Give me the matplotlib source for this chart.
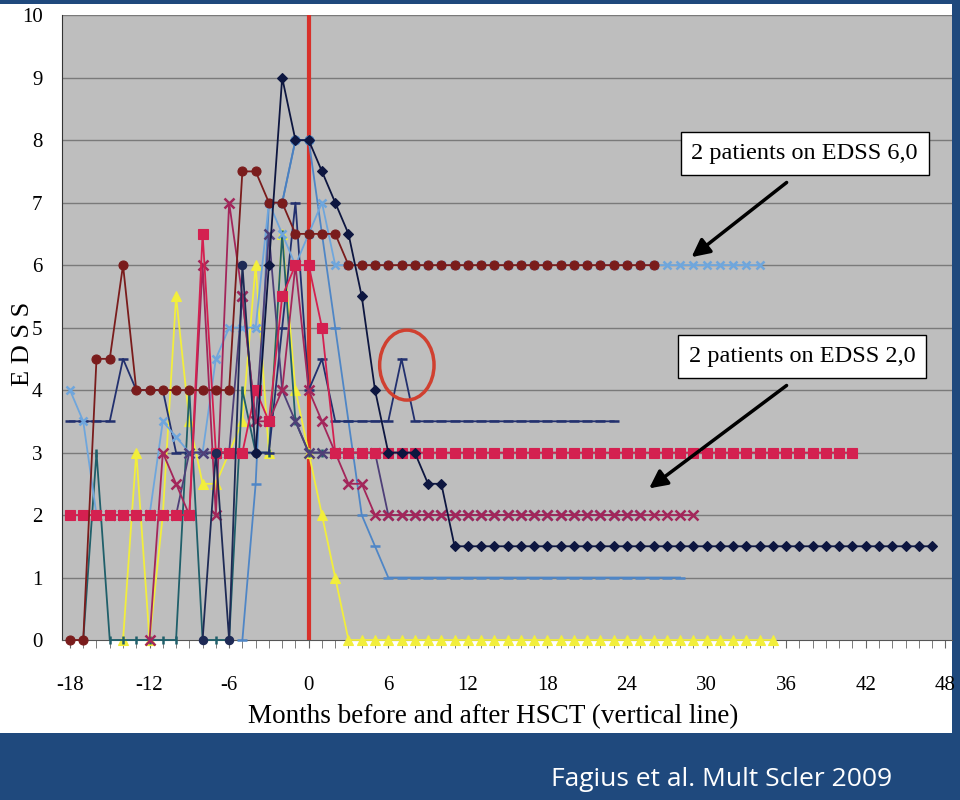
import numpy as np
import matplotlib
matplotlib.use("Agg")
import matplotlib.pyplot as plt
from matplotlib.patches import Ellipse, Rectangle

plt.rcParams["axes.unicode_minus"] = False

# EDSS per patient, one value per month, starting at the given month
maroon_start = -18
maroon_vals = [0, 0, 4.5, 4.5, 6, 4, 4, 4, 4, 4, 4, 4, 4, 7.5, 7.5, 7, 7,
               6.5, 6.5, 6.5, 6.5,
               6, 6, 6, 6, 6, 6, 6, 6, 6, 6, 6, 6, 6, 6, 6, 6, 6, 6, 6, 6, 6, 6, 6, 6]

lblue_x_start = -18
lblue_x_vals = [4, 3.5, 2, 2, 2, 2, 2, 3.5, 3.25, 3, 3, 4.5, 5, 5, 5, 7, 6.5, 6, 6.5, 7, 6,
                6, 6, 6, 6, 6, 6, 6, 6, 6, 6, 6, 6, 6, 6, 6, 6,
                6, 6, 6, 6, 6, 6, 6, 6, 6, 6, 6, 6, 6, 6, 6, 6]

navy_diam_start = -4
navy_diam_vals = [3, 6, 9, 8, 8, 7.5, 7, 6.5, 5.5, 4, 3, 3, 3, 2.5, 2.5,
                  1.5, 1.5, 1.5, 1.5, 1.5, 1.5, 1.5, 1.5, 1.5, 1.5, 1.5, 1.5, 1.5,
                  1.5, 1.5, 1.5, 1.5, 1.5, 1.5, 1.5, 1.5, 1.5, 1.5, 1.5, 1.5, 1.5,
                  1.5, 1.5, 1.5, 1.5, 1.5, 1.5, 1.5, 1.5, 1.5, 1.5, 1.5]

crimson_start = -18
crimson_vals = [2, 2, 2, 2, 2, 2, 2, 2, 2, 2, 6.5, 3, 3, 3, 4, 3.5, 5.5, 6, 6, 5,
                3, 3, 3, 3, 3, 3, 3, 3, 3, 3, 3, 3, 3, 3, 3, 3, 3, 3, 3, 3,
                3, 3, 3, 3, 3, 3, 3, 3, 3, 3, 3, 3, 3, 3, 3, 3, 3, 3, 3, 3]

crimson_x_start = -12
crimson_x_vals = [0, 3, 2.5, 2, 6, 2, 7, 5.5, 3.5, 3.5, 4, 6, 4, 3.5, 3, 2.5, 2.5,
                  2, 2, 2, 2, 2, 2, 2, 2, 2, 2, 2, 2, 2, 2, 2, 2, 2, 2, 2, 2, 2, 2, 2, 2, 2]

purple_x_start = -16
purple_x_vals = [2, 2, 2, 2, 2, 2, 2, 3, 3, 3, 3, 5.5, 3.5, 6.5, 4, 3.5, 3, 3, 3, 3, 3, 3,
                 2, 2, 2, 2, 2, 2, 2, 2, 2, 2, 2, 2, 2, 2, 2, 2, 2, 2, 2, 2]

navy_dash_start = -18
navy_dash_vals = [3.5, 3.5, 3.5, 3.5, 4.5, 4, 4, 4, 3, 3, 3, 3, 3, 3, 3, 3, 5, 7, 4, 4.5,
                  3.5, 3.5, 3.5, 3.5, 3.5, 4.5,
                  3.5, 3.5, 3.5, 3.5, 3.5, 3.5, 3.5, 3.5, 3.5, 3.5, 3.5, 3.5, 3.5, 3.5, 3.5, 3.5]

lblue_dash_start = -5
lblue_dash_vals = [0, 2.5, 7, 7, 8, 8, 6.5, 5, 3.5, 2, 1.5,
                   1, 1, 1, 1, 1, 1, 1, 1, 1, 1, 1, 1, 1, 1, 1, 1, 1, 1, 1, 1, 1, 1, 1]

steel_circ_start = -2
steel_circ_vals = [7, 8, 8]

yellow_start = -14
yellow_vals = [0, 3, 0, 2, 5.5, 3.5, 2.5, 2.5, 3, 3.5, 6, 3, 6.5, 4, 3, 2, 1,
               0, 0, 0, 0, 0, 0, 0, 0, 0, 0, 0, 0, 0, 0, 0, 0, 0,
               0, 0, 0, 0, 0, 0, 0, 0, 0, 0, 0, 0, 0, 0, 0, 0]

teal_start = -17
teal_vals = [0, 3, 0, 0, 0, 0, 0, 0, 4, 0, 0, 0, 4, 3, 3, 6.5, 3.5, 3, 3]

navy_circ_start = -8
navy_circ_vals = [0, 3, 0, 6, 3]

x_ticks = [-18, -12, -6, 0, 6, 12, 18, 24, 30, 36, 42, 48]
y_ticks = [0, 1, 2, 3, 4, 5, 6, 7, 8, 9, 10]

series = [
    (yellow_start, yellow_vals, "#F2EE3C", "^", 6.5),
    (teal_start, teal_vals, "#1F5F6A", "|", 6),
    (lblue_dash_start, lblue_dash_vals, "#4F86C6", "_", 7),
    (navy_dash_start, navy_dash_vals, "#22306E", "_", 7),
    (lblue_x_start, lblue_x_vals, "#6FA6DC", "x", 6),
    (purple_x_start, purple_x_vals, "#4E3F78", "x", 6.5),
    (crimson_x_start, crimson_x_vals, "#A3265A", "x", 6.5),
    (crimson_start, crimson_vals, "#D42050", "s", 6.5),
    (navy_circ_start, navy_circ_vals, "#1E2A55", "o", 6),
    (steel_circ_start, steel_circ_vals, "#4A80C0", "o", 6.5),
    (maroon_start, maroon_vals, "#7A1C1C", "o", 6.5),
    (navy_diam_start, navy_diam_vals, "#0D1640", "D", 5),
]

serif = "Liberation Serif"
fig = plt.figure(figsize=(9.6, 8), dpi=100)
fig.set_facecolor("#1F497D")
fig.patches.append(Rectangle((0, 0.084), 0.992, 0.911, transform=fig.transFigure,
                             facecolor="white", edgecolor="none", zorder=-10))

ax = fig.add_axes([0.0646, 0.2, 0.927, 0.781])
ax.set_zorder(2)
ax.set_facecolor("#BEBEBE")
ax.set_xlim(-18.6, 48.5)
ax.set_ylim(0, 10)

for y in y_ticks[1:]:
    ax.axhline(y, color="#7A7A7A", lw=1, zorder=1)

ax.axvline(0, color="#D8302A", lw=3, zorder=2)

for start, vals, col, mk, ms in series:
    xs = np.arange(start, start + len(vals))
    mew = 1.8 if mk in ("x", "|", "_") else 0.8
    ax.plot(xs, vals, color=col, lw=1.3, marker=mk, markersize=ms,
            markeredgewidth=mew, markerfacecolor=col, markeredgecolor=col,
            zorder=3, clip_on=False)

ax.add_patch(Ellipse((7.4, 4.4), 4.1, 1.12, facecolor="none",
                     edgecolor="#D04030", lw=2.5, zorder=4))

box = dict(boxstyle="square,pad=0.45", facecolor="white", edgecolor="black", lw=1)
arrow = dict(arrowstyle="-|>", lw=2.5, color="black", mutation_scale=27)
ax.annotate("", xy=(28.7, 6.1), xytext=(36.2, 7.35), arrowprops=arrow, zorder=5)
ax.text(37.4, 7.78, "2 patients on EDSS 6,0", ha="center", va="center",
        fontsize=17.5, family=serif, bbox=box, zorder=6)
ax.annotate("", xy=(25.5, 2.4), xytext=(36.2, 4.1), arrowprops=arrow, zorder=5)
ax.text(37.2, 4.54, "2 patients on EDSS 2,0", ha="center", va="center",
        fontsize=17.5, family=serif, bbox=box, zorder=6)

ax.set_xticks(x_ticks)
ax.set_xticks(np.arange(-18, 49), minor=True)
ax.set_yticks(y_ticks)
ax.tick_params(axis="x", which="both", direction="out", length=6, color="#666666",
               labelsize=15, pad=20)
ax.tick_params(axis="y", length=0, labelsize=15, pad=14)
for lab in ax.get_xticklabels() + ax.get_yticklabels():
    lab.set_family(serif)

for s in ("top", "right"):
    ax.spines[s].set_visible(False)
ax.spines["left"].set_color("#333333")
ax.spines["bottom"].set_color("#555555")

ax.set_xlabel("Months before and after HSCT (vertical line)", fontsize=19.5,
              family=serif)
ax.xaxis.set_label_coords(0.485, -0.102)
fig.text(0.024, 0.57, "E D S S", rotation=90, ha="center", va="center",
         fontsize=19, family=serif)

fig.text(0.752, 0.026, "Fagius et al. Mult Scler 2009", color="white",
         ha="center", va="center", fontsize=19, family="Open Sans")

fig.savefig("out.png", dpi=100, facecolor=fig.get_facecolor())
